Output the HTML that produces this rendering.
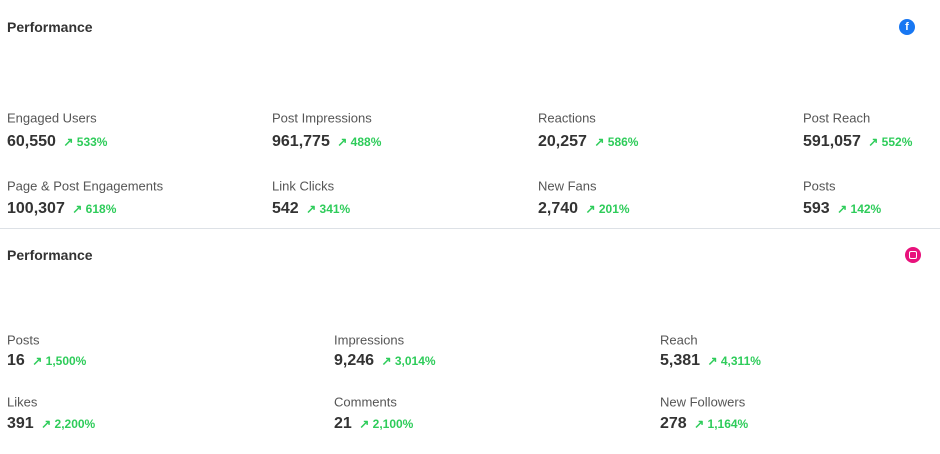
<!DOCTYPE html>
<html><head><meta charset="utf-8"><style>
body{margin:0;width:940px;height:454px;background:#fff;font-family:"Liberation Sans",Roboto,sans-serif;position:relative;overflow:hidden}
.a{position:absolute;white-space:nowrap}
.t{font-size:14px;font-weight:bold;color:#333;transform:translateY(-50%)}
.l{font-size:13px;color:#555;transform:translateY(-50%)}
.v{font-size:16px;font-weight:bold;color:#333;transform:translateY(-50%)}
.v span{font-size:12px;color:#2ecc5a;margin-left:3px}
.hr{position:absolute;left:0;top:228px;width:940px;height:1px;background:#dde1e6}
</style></head><body>
<div class="a t" style="left:7px;top:27px">Performance</div>
<div class="a" style="left:899px;top:19px;width:16px;height:16px;border-radius:50%;background:#1877f2;color:#fff;font-size:11px;font-weight:bold;text-align:center;line-height:17px">f</div>

<div class="a l" style="left:7px;top:118px">Engaged Users</div>
<div class="a v" style="left:7px;top:142px">60,550 <span>↗ 533%</span></div>
<div class="a l" style="left:272px;top:118px">Post Impressions</div>
<div class="a v" style="left:272px;top:142px">961,775 <span>↗ 488%</span></div>
<div class="a l" style="left:538px;top:118px">Reactions</div>
<div class="a v" style="left:538px;top:142px">20,257 <span>↗ 586%</span></div>
<div class="a l" style="left:803px;top:118px">Post Reach</div>
<div class="a v" style="left:803px;top:142px">591,057 <span>↗ 552%</span></div>

<div class="a l" style="left:7px;top:186px">Page &amp; Post Engagements</div>
<div class="a v" style="left:7px;top:209px">100,307 <span>↗ 618%</span></div>
<div class="a l" style="left:272px;top:186px">Link Clicks</div>
<div class="a v" style="left:272px;top:209px">542 <span>↗ 341%</span></div>
<div class="a l" style="left:538px;top:186px">New Fans</div>
<div class="a v" style="left:538px;top:209px">2,740 <span>↗ 201%</span></div>
<div class="a l" style="left:803px;top:186px">Posts</div>
<div class="a v" style="left:803px;top:209px">593 <span>↗ 142%</span></div>

<div class="hr"></div>

<div class="a t" style="left:7px;top:255px">Performance</div>
<div class="a" style="left:905px;top:247px;width:16px;height:16px;border-radius:50%;background:#e8127c"><div style="position:absolute;left:4px;top:4px;width:6px;height:6px;border:1px solid #fff;border-radius:2px"></div></div>

<div class="a l" style="left:7px;top:340px">Posts</div>
<div class="a v" style="left:7px;top:361px">16 <span>↗ 1,500%</span></div>
<div class="a l" style="left:334px;top:340px">Impressions</div>
<div class="a v" style="left:334px;top:361px">9,246 <span>↗ 3,014%</span></div>
<div class="a l" style="left:660px;top:340px">Reach</div>
<div class="a v" style="left:660px;top:361px">5,381 <span>↗ 4,311%</span></div>

<div class="a l" style="left:7px;top:402px">Likes</div>
<div class="a v" style="left:7px;top:424px">391 <span>↗ 2,200%</span></div>
<div class="a l" style="left:334px;top:402px">Comments</div>
<div class="a v" style="left:334px;top:424px">21 <span>↗ 2,100%</span></div>
<div class="a l" style="left:660px;top:402px">New Followers</div>
<div class="a v" style="left:660px;top:424px">278 <span>↗ 1,164%</span></div>
</body></html>
